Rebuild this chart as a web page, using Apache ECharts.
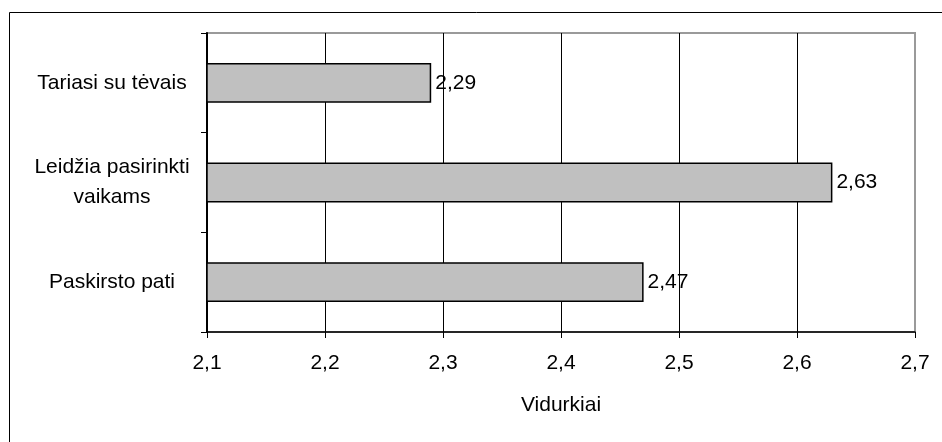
<!DOCTYPE html>
<html>
<head>
<meta charset="utf-8">
<script src="https://cdn.jsdelivr.net/npm/echarts@6/dist/echarts.min.js"></script>
<style>
html,body{margin:0;padding:0;background:#fff;}
#chart{width:942px;height:442px;}
</style>
</head>
<body>
<div id="chart"></div>
<script>
const categories = ['Tariasi su tėvais', 'Leidžia pasirinkti\nvaikams', 'Paskirsto pati'];
const values = [2.29, 2.63, 2.47];
const axisName = 'Vidurkiai';
const xMin = 2.1, xMax = 2.7, xStep = 0.1;

const fmt = v => String(Math.round(v * 100) / 100).replace('.', ',');
const font = '"Liberation Sans", Arial, sans-serif';

const chart = echarts.init(document.getElementById('chart'));
chart.setOption({
  animation: false,
  backgroundColor: '#fff',
  textStyle: { fontFamily: font, color: '#000' },
  graphic: [{
    type: 'rect',
    shape: { x: 9.5, y: 12.5, width: 1200, height: 1200 },
    style: { fill: 'none', stroke: '#000', lineWidth: 1 },
    silent: true, z: -10
  }],
  grid: {
    left: 207, right: 27, top: 33, bottom: 110,
    show: true, borderColor: '#9a9a9a', borderWidth: 2, backgroundColor: '#fff'
  },
  xAxis: {
    type: 'value', min: xMin, max: xMax, interval: xStep,
    name: axisName, nameLocation: 'middle', nameGap: 63,
    nameTextStyle: { fontSize: 21, fontFamily: font, color: '#000' },
    axisLine: { show: true, lineStyle: { color: '#000', width: 1.5 } },
    axisTick: { show: true, length: 6, lineStyle: { color: '#000', width: 1 } },
    axisLabel: { fontSize: 21, fontFamily: font, color: '#000', margin: 21, formatter: v => fmt(v) },
    splitLine: { show: true, lineStyle: { color: ['#000','#000','#000','#000','#000','#000','#9a9a9a'], width: 1 } }
  },
  yAxis: {
    type: 'category', data: categories, inverse: true,
    axisLine: { show: true, lineStyle: { color: '#000', width: 2 } },
    axisTick: { show: true, length: 6, alignWithLabel: false, lineStyle: { color: '#000', width: 1 } },
    axisLabel: { fontSize: 21, fontFamily: font, color: '#000', align: 'center', margin: 95, lineHeight: 30,
      padding: [3, 0, 0, 0] },
    splitLine: { show: false }
  },
  series: [{
    type: 'bar', data: values, barWidth: '40%',
    itemStyle: { color: '#c0c0c0', borderColor: '#000', borderWidth: 1.5 },
    label: { show: true, position: 'right', distance: 4, fontSize: 21, fontFamily: font, color: '#000',
      formatter: p => fmt(p.value) }
  }]
});
</script>
</body>
</html>
